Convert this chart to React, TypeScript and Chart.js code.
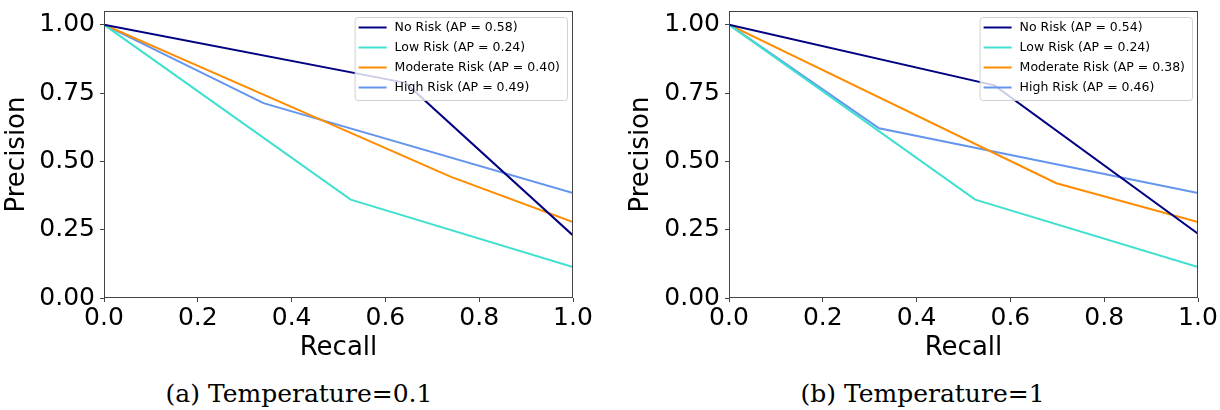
import React, { useEffect, useRef } from "react";
import { Chart, registerables } from "chart.js";

Chart.register(...registerables);

// ---------- data ----------
const seriesLabels = ["No Risk", "Low Risk", "Moderate Risk", "High Risk"];
const seriesColors = ["#000080", "#40E0D0", "#FF8C00", "#6495ED"];
const xTicks = [0, 0.2, 0.4, 0.6, 0.8, 1.0];
const yTicks = [0, 0.25, 0.5, 0.75, 1.0];

// Panel (a) Temperature = 0.1
const apA = [0.58, 0.24, 0.4, 0.49];
const noRiskRecallA = [0, 0.643, 1];
const noRiskPrecisionA = [1, 0.787, 0.229];
const lowRiskRecallA = [0, 0.526, 1];
const lowRiskPrecisionA = [1, 0.36, 0.113];
const modRiskRecallA = [0, 0.74, 1];
const modRiskPrecisionA = [1, 0.443, 0.278];
const highRiskRecallA = [0, 0.34, 1];
const highRiskPrecisionA = [1, 0.713, 0.384];

// Panel (b) Temperature = 1
const apB = [0.54, 0.24, 0.38, 0.46];
const noRiskRecallB = [0, 0.566, 1];
const noRiskPrecisionB = [1, 0.778, 0.235];
const lowRiskRecallB = [0, 0.525, 1];
const lowRiskPrecisionB = [1, 0.36, 0.113];
const modRiskRecallB = [0, 0.698, 1];
const modRiskPrecisionB = [1, 0.42, 0.278];
const highRiskRecallB = [0, 0.32, 1];
const highRiskPrecisionB = [1, 0.621, 0.384];

const captionA = "(a) Temperature=0.1";
const captionB = "(b) Temperature=1";

// ---------- styling ----------
const FONT = "DejaVu Sans";
const SPINE = "#444444";
const CANVAS_H = 364;
const PLOT_TOP = 11;
const PLOT_BOTTOM = 298;

const spinesAndLegend = {
  id: "spinesAndLegend",
  afterDraw(chart: any, _args: any, opts: any) {
    const { ctx, chartArea: a } = chart;
    ctx.save();
    // axes box (all four spines)
    ctx.strokeStyle = SPINE;
    ctx.lineWidth = 1;
    const l = Math.round(a.left) + 0.5;
    const r = Math.round(a.right) - 0.5;
    const t = Math.round(a.top) + 0.5;
    const b = Math.round(a.bottom) - 0.5;
    ctx.strokeRect(l, t, r - l, b - t);

    // matplotlib-like legend in upper right
    const labels: string[] = opts.labels || [];
    const colors: string[] = opts.colors || [];
    ctx.font = `12.5px "${FONT}"`;
    let maxW = 0;
    labels.forEach((s) => {
      maxW = Math.max(maxW, ctx.measureText(s).width);
    });
    const w = 40 + maxW + 7;
    const h = 83;
    const x = a.right - 6 - w;
    const y = a.top + 6;
    ctx.beginPath();
    if ((ctx as any).roundRect) (ctx as any).roundRect(x + 0.5, y + 0.5, w, h, 3);
    else ctx.rect(x + 0.5, y + 0.5, w, h);
    ctx.fillStyle = "rgba(255,255,255,0.8)";
    ctx.fill();
    ctx.strokeStyle = "rgba(204,204,204,0.9)";
    ctx.lineWidth = 1;
    ctx.stroke();
    labels.forEach((s, i) => {
      const cy = y + 10.5 + i * 20;
      ctx.beginPath();
      ctx.strokeStyle = colors[i];
      ctx.lineWidth = 2;
      ctx.moveTo(x + 4, cy);
      ctx.lineTo(x + 32, cy);
      ctx.stroke();
      ctx.fillStyle = "#000";
      ctx.textBaseline = "middle";
      ctx.textAlign = "left";
      ctx.fillText(s, x + 40, cy + 0.5);
    });
    ctx.restore();
  },
};

type Series = { recall: number[]; precision: number[] };

function Panel(props: {
  left: number;
  width: number;
  yWidth: number;
  padRight: number;
  series: Series[];
  ap: number[];
}) {
  const ref = useRef<HTMLCanvasElement | null>(null);
  useEffect(() => {
    if (!ref.current) return;
    const legendLabels = seriesLabels.map(
      (s, i) => `${s} (AP = ${props.ap[i].toFixed(2)})`
    );
    const chart = new Chart(ref.current, {
      type: "line",
      data: {
        datasets: props.series.map((s, i) => ({
          label: legendLabels[i],
          data: s.recall.map((x, j) => ({ x, y: s.precision[j] })),
          borderColor: seriesColors[i],
          backgroundColor: seriesColors[i],
          borderWidth: 2,
          pointRadius: 0,
          tension: 0,
          fill: false,
        })),
      },
      options: {
        responsive: false,
        animation: false,
        devicePixelRatio: 1,
        layout: { padding: { left: 0, top: PLOT_TOP, right: props.padRight, bottom: 0 } },
        plugins: {
          legend: { display: false },
          tooltip: { enabled: false },
          spinesAndLegend: { labels: legendLabels, colors: seriesColors },
        } as any,
        scales: {
          x: {
            type: "linear",
            min: 0,
            max: 1,
            afterBuildTicks: (s: any) => {
              s.ticks = xTicks.map((v) => ({ value: v }));
            },
            afterFit: (s: any) => {
              s.height = CANVAS_H - PLOT_BOTTOM;
              s.paddingLeft = 0;
              s.paddingRight = 0;
            },
            ticks: {
              callback: (v: any) => Number(v).toFixed(1),
              font: { family: FONT, size: 25 },
              color: "#000",
              padding: 1,
              maxRotation: 0,
              autoSkip: false,
            },
            grid: { drawOnChartArea: false, drawTicks: true, tickLength: 4, color: SPINE },
            border: { display: false },
            title: {
              display: true,
              text: "Recall",
              font: { family: FONT, size: 26 },
              color: "#000",
              padding: { top: 0, bottom: 0 },
            },
          },
          y: {
            type: "linear",
            min: 0,
            max: 1.05,
            afterBuildTicks: (s: any) => {
              s.ticks = yTicks.map((v) => ({ value: v }));
            },
            afterFit: (s: any) => {
              s.width = props.yWidth;
              s.paddingTop = 0;
              s.paddingBottom = 0;
            },
            ticks: {
              callback: (v: any) => Number(v).toFixed(2),
              font: { family: FONT, size: 25 },
              color: "#000",
              padding: 5,
              autoSkip: false,
            },
            grid: { drawOnChartArea: false, drawTicks: true, tickLength: 4, color: SPINE },
            border: { display: false },
            title: {
              display: true,
              text: "Precision",
              font: { family: FONT, size: 26 },
              color: "#000",
              padding: { top: 2, bottom: 0 },
            },
          },
        },
      },
      plugins: [spinesAndLegend],
    } as any);
    return () => chart.destroy();
  }, []);
  return (
    <canvas
      ref={ref}
      width={props.width}
      height={CANVAS_H}
      style={{ position: "absolute", left: props.left, top: 0, width: props.width, height: CANVAS_H }}
    />
  );
}

const captionStyle = (center: number): React.CSSProperties => ({
  position: "absolute",
  left: center - 200,
  width: 400,
  top: 379,
  textAlign: "center",
  fontFamily: '"DejaVu Serif"',
  fontSize: 25,
  lineHeight: "30px",
  color: "#000",
  whiteSpace: "nowrap",
});

export default function App() {
  const seriesA: Series[] = [
    { recall: noRiskRecallA, precision: noRiskPrecisionA },
    { recall: lowRiskRecallA, precision: lowRiskPrecisionA },
    { recall: modRiskRecallA, precision: modRiskPrecisionA },
    { recall: highRiskRecallA, precision: highRiskPrecisionA },
  ];
  const seriesB: Series[] = [
    { recall: noRiskRecallB, precision: noRiskPrecisionB },
    { recall: lowRiskRecallB, precision: lowRiskPrecisionB },
    { recall: modRiskRecallB, precision: modRiskPrecisionB },
    { recall: highRiskRecallB, precision: highRiskPrecisionB },
  ];
  return (
    <div
      style={{
        position: "fixed",
        left: 0,
        top: 0,
        width: 1220,
        height: 410,
        background: "#fff",
        overflow: "hidden",
      }}
    >
      <Panel left={0} width={600} yWidth={104} padRight={27} series={seriesA} ap={apA} />
      <Panel left={624} width={596} yWidth={105} padRight={22} series={seriesB} ap={apB} />
      <div style={captionStyle(299)}>{captionA}</div>
      <div style={captionStyle(922.5)}>{captionB}</div>
    </div>
  );
}
